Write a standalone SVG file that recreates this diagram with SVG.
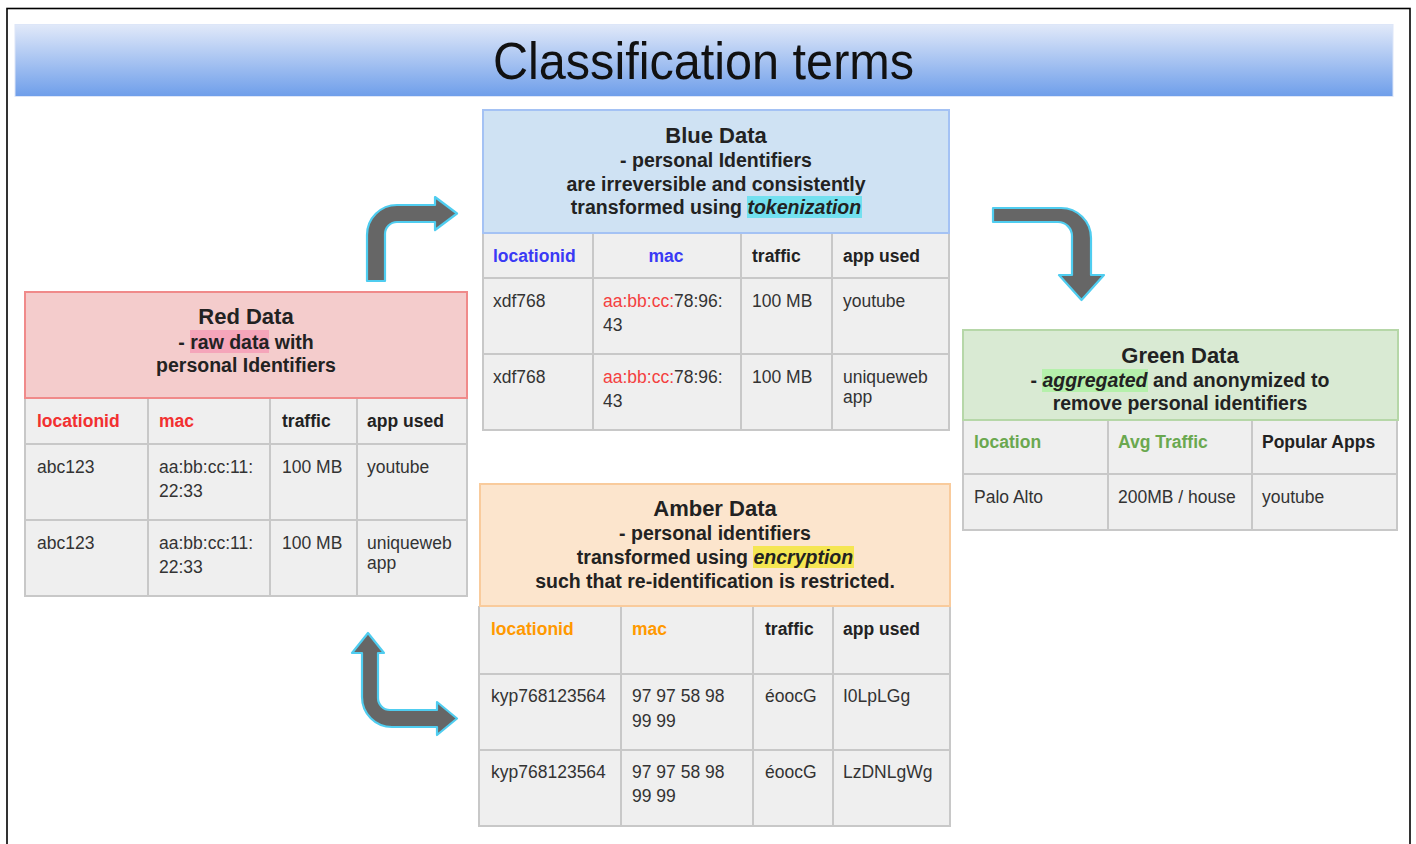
<svg xmlns="http://www.w3.org/2000/svg" width="1416" height="844" viewBox="0 0 1416 844">
<defs>
<linearGradient id="tg" x1="0" y1="0" x2="0" y2="1">
<stop offset="0" stop-color="#e1e9f9"/>
<stop offset="1" stop-color="#6e9eea"/>
</linearGradient>
<style>
text{font-family:"Liberation Sans",Arial,sans-serif;fill:#222}
.ht{font-size:22px;font-weight:bold;text-anchor:middle}
.hs{font-size:19.5px;font-weight:bold;text-anchor:middle}
.th{font-size:17.5px;font-weight:bold}
.td{font-size:17.5px;fill:#333}
.tbl{fill:#efefef}
.grid{stroke:#c8c8c8;stroke-width:2;fill:none}
.arrow{fill:#666666;stroke:#4fcdf0;stroke-width:2.2;stroke-linejoin:round}
</style>
</defs>
<rect x="0" y="0" width="1416" height="844" fill="#ffffff"/>
<rect x="7" y="8.5" width="1403" height="900" fill="none" stroke="#000" stroke-width="1.6"/>

<g id="title">
<rect x="15" y="24.5" width="1378" height="72" fill="url(#tg)" stroke="#dde6f8" stroke-width="1"/>
<text x="703.5" y="0" transform="translate(0,79) scale(1,1.06)" style="font-size:48.6px;text-anchor:middle;fill:#111">Classification terms</text>
</g>

<g id="red">
<rect x="25" y="398" width="442" height="198" class="tbl"/>
<path class="grid" d="M25,398V596H467V398M25,444H467M25,520H467M148,398V596M270,398V596M357,398V596"/>
<rect x="25" y="292" width="442" height="106" fill="#f4cccc" stroke="#f08a8a" stroke-width="2"/>
<rect x="190" y="330" width="79" height="23" fill="#f5a5ba"/>
<text x="246" y="324" class="ht">Red Data</text>
<text x="246" y="349" class="hs">- raw data with</text>
<text x="246" y="372" class="hs">personal Identifiers</text>
<text x="37" y="427" class="th" style="fill:#f23030">locationid</text>
<text x="159" y="427" class="th" style="fill:#f23030">mac</text>
<text x="282" y="427" class="th">traffic</text>
<text x="367" y="427" class="th">app used</text>
<text x="37" y="473" class="td">abc123</text>
<text x="159" y="473" class="td">aa:bb:cc:11:</text>
<text x="159" y="497" class="td">22:33</text>
<text x="282" y="473" class="td">100 MB</text>
<text x="367" y="473" class="td">youtube</text>
<text x="37" y="549" class="td">abc123</text>
<text x="159" y="549" class="td">aa:bb:cc:11:</text>
<text x="159" y="573" class="td">22:33</text>
<text x="282" y="549" class="td">100 MB</text>
<text x="367" y="549" class="td">uniqueweb</text>
<text x="367" y="569" class="td">app</text>
</g>

<g id="blue">
<rect x="483" y="233" width="466" height="197" class="tbl"/>
<path class="grid" d="M483,233V430H949V233M483,278H949M483,354H949M593,233V430M741,233V430M832,233V430"/>
<rect x="483" y="110" width="466" height="123" fill="#cfe2f3" stroke="#a4c2f4" stroke-width="2"/>
<rect x="747" y="196" width="115" height="22" fill="#72e0ef"/>
<text x="716" y="143" class="ht">Blue Data</text>
<text x="716" y="167" class="hs">- personal Identifiers</text>
<text x="716" y="191" class="hs">are irreversible and consistently</text>
<text x="716" y="214" class="hs">transformed using <tspan font-style="italic">tokenization</tspan></text>
<text x="493" y="262" class="th" style="fill:#3a3af5">locationid</text>
<text x="666" y="262" class="th" style="fill:#3a3af5;text-anchor:middle">mac</text>
<text x="752" y="262" class="th">traffic</text>
<text x="843" y="262" class="th">app used</text>
<text x="493" y="307" class="td">xdf768</text>
<text x="603" y="307" class="td"><tspan style="fill:#f44040">aa:bb:cc:</tspan>78:96:</text>
<text x="603" y="331" class="td">43</text>
<text x="752" y="307" class="td">100 MB</text>
<text x="843" y="307" class="td">youtube</text>
<text x="493" y="383" class="td">xdf768</text>
<text x="603" y="383" class="td"><tspan style="fill:#f44040">aa:bb:cc:</tspan>78:96:</text>
<text x="603" y="407" class="td">43</text>
<text x="752" y="383" class="td">100 MB</text>
<text x="843" y="383" class="td">uniqueweb</text>
<text x="843" y="403" class="td">app</text>
</g>

<g id="green">
<rect x="963" y="420" width="434" height="110" class="tbl"/>
<path class="grid" d="M963,420V530H1397V420M963,474H1397M1108,420V530M1252,420V530"/>
<rect x="963" y="330" width="435" height="90" fill="#d9ead3" stroke="#b6d7a8" stroke-width="2"/>
<rect x="1042" y="369" width="106" height="23" fill="#b5f0ab"/>
<text x="1180" y="363" class="ht">Green Data</text>
<text x="1180" y="387" class="hs">- <tspan font-style="italic">aggregated</tspan> and anonymized to</text>
<text x="1180" y="410" class="hs">remove personal identifiers</text>
<text x="974" y="448" class="th" style="fill:#6aa84f">location</text>
<text x="1118" y="448" class="th" style="fill:#6aa84f">Avg Traffic</text>
<text x="1262" y="448" class="th">Popular Apps</text>
<text x="974" y="503" class="td">Palo Alto</text>
<text x="1118" y="503" class="td">200MB / house</text>
<text x="1262" y="503" class="td">youtube</text>
</g>

<g id="amber">
<rect x="479" y="606" width="471" height="220" class="tbl"/>
<path class="grid" d="M479,606V826H950V606M479,674H950M479,750H950M621,606V826M753,606V826M833,606V826"/>
<rect x="480" y="484" width="470" height="122" fill="#fce5cd" stroke="#f9cb9c" stroke-width="2"/>
<rect x="753" y="546" width="101" height="22" fill="#f5e652"/>
<text x="715" y="516" class="ht">Amber Data</text>
<text x="715" y="540" class="hs">- personal identifiers</text>
<text x="715" y="564" class="hs">transformed using <tspan font-style="italic">encryption</tspan></text>
<text x="715" y="588" class="hs">such that re-identification is restricted.</text>
<text x="491" y="635" class="th" style="fill:#ff9900">locationid</text>
<text x="632" y="635" class="th" style="fill:#ff9900">mac</text>
<text x="765" y="635" class="th">traffic</text>
<text x="843" y="635" class="th">app used</text>
<text x="491" y="702" class="td">kyp768123564</text>
<text x="632" y="702" class="td">97 97 58 98</text>
<text x="632" y="727" class="td">99 99</text>
<text x="765" y="702" class="td">éoocG</text>
<text x="843" y="702" class="td">I0LpLGg</text>
<text x="491" y="778" class="td">kyp768123564</text>
<text x="632" y="778" class="td">97 97 58 98</text>
<text x="632" y="802" class="td">99 99</text>
<text x="765" y="778" class="td">éoocG</text>
<text x="843" y="778" class="td">LzDNLgWg</text>
</g>

<g id="connectors">
<path class="arrow" d="M367,281 L367,235 A30,30 0 0 1 397,205 L435,205 L435,197 L457,213.5 L435,230 L435,222 L397,222 A12,12 0 0 0 385,234 L385,281 Z"/>
<path class="arrow" d="M993,208 L1061,208 A30,30 0 0 1 1091,238 L1091,275 L1104,275 L1081.5,300 L1059,275 L1072,275 L1072,236 A14,14 0 0 0 1058,222 L993,222 Z"/>
<path class="arrow" d="M368,633 L384,653 L378,653 L378,698 A12,12 0 0 0 390,710 L437,710 L437,702 L457,718.5 L437,735 L437,727 L392,727 A30,30 0 0 1 362,697 L362,653 L352,653 Z"/>
</g>
</svg>
